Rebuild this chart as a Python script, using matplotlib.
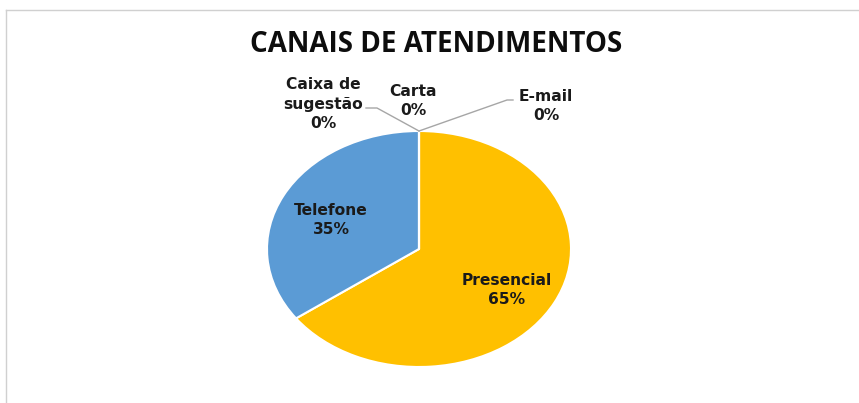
import math
import matplotlib.pyplot as plt
from matplotlib.lines import Line2D

# data
categorias = ["Presencial", "Telefone", "Caixa de\nsugestão", "Carta", "E-mail"]
valores = [65, 35, 0, 0, 0]
cores = ["#FFC000", "#5B9BD5", "#A5A5A5", "#ED7D31", "#4472C4"]

W, H = 859, 403
fig = plt.figure(figsize=(W / 100, H / 100), dpi=100)
ax = fig.add_axes([0, 0, 1, 1])

# pie centre / radii in pixels (picture is stretched horizontally)
cx, cy, rx, ry = 419, 249, 152, 118


def px(x, y):
    return (x - cx) / rx, (cy - y) / ry


fonte = dict(family="DejaVu Sans", weight="bold", size=11.2, color="#1A1A1A")

wedges, _ = ax.pie(valores, colors=cores, startangle=90, counterclock=False,
                   wedgeprops=dict(edgecolor="white", linewidth=1.5))

# labels for the two real slices, inside the wedges
total = sum(valores)
ang = 90
for nome, v in zip(categorias, valores):
    if v == 0:
        continue
    meio = ang - v / total * 360 / 2
    ang -= v / total * 360
    r = 0.65
    ax.text(r * math.cos(math.radians(meio)),
            r * math.sin(math.radians(meio)) - 6 / ry,
            f"{nome}\n{v}%", ha="center", va="center", linespacing=1.35, **fonte)

# zero slices, with leader lines to the top of the pie
topo = (0, 1)
externos = {
    "Caixa de\nsugestão": dict(txt=(323, 104), linha=[(366, 108), (377, 108)]),
    "Carta": dict(txt=(413, 101), linha=None),
    "E-mail": dict(txt=(546, 106), linha=[(513, 100), (507, 100)]),
}
for nome, v in zip(categorias, valores):
    if nome not in externos:
        continue
    e = externos[nome]
    ax.text(*px(*e["txt"]), f"{nome}\n{v}%", ha="center", va="center",
            linespacing=1.35, **fonte)
    if e["linha"]:
        pts = [px(*p) for p in e["linha"]] + [topo]
        ax.plot([p[0] for p in pts], [p[1] for p in pts], color="#A6A6A6", lw=1)

ax.set_aspect("auto")
ax.set_xlim(-cx / rx, (W - cx) / rx)
ax.set_ylim(-(H - cy) / ry, cy / ry)
ax.axis("off")

fig.text(436 / W, 1 - 44 / H, "CANAIS DE ATENDIMENTOS", ha="center", va="center",
         family="Open Sans", weight="bold", size=20, color="#0D0D0D")

# chart frame (only left and top edges are visible)
fig.add_artist(Line2D([5.5 / W, 5.5 / W], [0, 1 - 9.5 / H], color="#D0D0D0", lw=1))
fig.add_artist(Line2D([5.5 / W, 1], [1 - 9.5 / H, 1 - 9.5 / H], color="#D0D0D0", lw=1))

fig.savefig("out.png", dpi=100)
